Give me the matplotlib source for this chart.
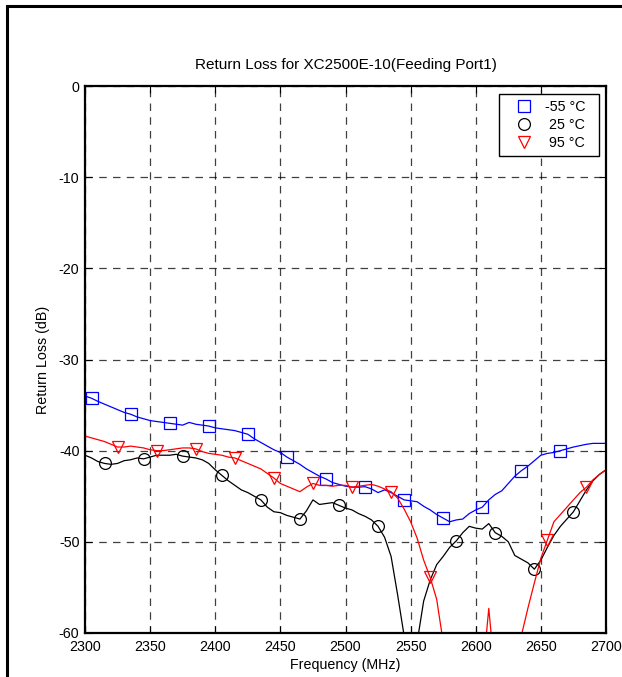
import matplotlib
matplotlib.use("Agg")
import matplotlib.pyplot as plt
from matplotlib.lines import Line2D
from matplotlib.patches import Rectangle
import numpy as np

plt.rcParams['font.family'] = ['Liberation Sans', 'DejaVu Sans']
plt.rcParams['axes.unicode_minus'] = False

freq = list(range(2300, 2701, 5))

rl_m55 = [-34.0, -34.25, -34.6, -34.9, -35.2, -35.5, -35.8, -36.0, -36.3, -36.5,
          -36.7, -36.8, -36.9, -37.0, -37.1, -37.2, -36.9, -37.1, -37.2, -37.3,
          -37.5, -37.6, -37.7, -37.8, -38.0, -38.2, -38.7, -39.1, -39.5, -39.9,
          -40.2, -40.7, -41.1, -41.5, -42.0, -42.4, -42.8, -43.1, -43.5, -43.7,
          -43.9, -44.0, -44.0, -43.95, -44.2, -44.6, -44.3, -44.6, -45.0, -45.4,
          -45.5, -45.6, -46.1, -46.5, -47.0, -47.4, -47.8, -47.6, -47.5, -46.9,
          -46.5, -46.2, -45.4, -44.8, -44.4, -43.6, -42.8, -42.2, -41.7, -41.1,
          -40.5, -40.3, -40.2, -40.0, -39.8, -39.6, -39.45, -39.3, -39.2, -39.2,
          -39.2]

rl_25 = [-40.5, -40.8, -41.2, -41.4, -41.5, -41.4, -41.1, -41.0, -40.8, -40.9,
         -40.7, -40.5, -40.5, -40.5, -40.4, -40.6, -40.7, -40.8, -41.0, -41.4,
         -42.1, -42.7, -43.3, -43.8, -44.3, -44.6, -45.0, -45.4, -46.2, -46.7,
         -46.8, -47.1, -47.3, -47.5, -46.6, -45.4, -45.9, -45.8, -45.7, -46.0,
         -46.3, -46.5, -46.9, -47.2, -47.6, -48.3, -49.5, -51.6, -55.8, -60.3,
         -66.0, -61.0, -56.5, -54.2, -52.5, -51.6, -50.6, -49.9, -49.0, -48.3,
         -48.5, -48.6, -48.0, -49.0, -49.4, -50.0, -51.5, -51.9, -52.3, -53.0,
         -52.0, -50.6, -49.3, -48.3, -47.5, -46.7, -45.5, -44.3, -43.3, -42.6,
         -42.1]

rl_95 = [-38.4, -38.6, -38.8, -39.0, -39.3, -39.6, -39.6, -39.5, -39.6, -39.7,
         -39.9, -40.0, -40.0, -39.9, -39.8, -39.7, -39.7, -39.8, -40.1, -40.3,
         -40.4, -40.5, -40.7, -40.8, -41.1, -41.4, -41.7, -42.0, -42.5, -43.0,
         -43.6, -43.9, -44.2, -44.5, -44.0, -43.6, -43.8, -43.8, -43.9, -43.8,
         -43.8, -44.0, -43.9, -43.8, -43.7, -43.9, -44.2, -44.5, -45.2, -46.4,
         -47.8, -49.6, -52.0, -53.9, -56.3, -61.0, -66.0, -68.0, -68.0, -67.0,
         -66.0, -65.0, -57.3, -65.0, -68.0, -68.0, -66.0, -60.3, -57.3, -54.5,
         -51.8, -49.8, -47.8, -47.0, -46.2, -45.4, -44.6, -44.0, -43.2, -42.6,
         -42.1]

labels = ['-55 °C  ', ' 25 °C  ', ' 95 °C  ']
colors = ['#0000ff', '#000000', '#ff0000']
markers = ['s', 'o', 'v']
mark_start = [1, 3, 5]
n_marks = 13

xticks = list(range(2300, 2701, 50))
yticks = list(range(-60, 1, 10))

fig = plt.figure(figsize=(6.22, 6.77), dpi=100)
ax = fig.add_axes([85/622, 44/677, 521/622, 547/677])

series = [rl_m55, rl_25, rl_95]
handles = []
for vals, c, m, s, lab in zip(series, colors, markers, mark_start, labels):
    ax.plot(freq, vals, color=c, lw=0.9, marker=m, markersize=8.5,
            markerfacecolor='none', markeredgecolor=c, markeredgewidth=0.9,
            markevery=slice(s, s + 6 * (n_marks - 1) + 1, 6))
    handles.append(Line2D([], [], color=c, marker=m, linestyle='none',
                          markersize=8.5, markerfacecolor='none',
                          markeredgecolor=c, markeredgewidth=0.9, label=lab))

ax.set_xlim(2300, 2700)
ax.set_ylim(-60, 0)
ax.set_xticks(xticks)
ax.set_yticks(yticks)
ax.grid(True, color='black', linestyle=(0, (6, 5)), linewidth=0.9, alpha=0.75)
ax.tick_params(direction='in', length=5, width=0.8, top=True, right=True,
               labelsize=10.3, colors='black')
ax.tick_params(axis='x', pad=5)
ax.tick_params(axis='y', pad=4)
for sp in ax.spines.values():
    sp.set_linewidth(1.6)
    sp.set_color('black')

ax.set_title('Return Loss for XC2500E-10(Feeding Port1)', fontsize=11, pad=12)
ax.set_xlabel('Frequency (MHz)', fontsize=10.3, labelpad=3)
ax.set_ylabel('Return Loss (dB)', fontsize=10.3, labelpad=6)

leg = ax.legend(handles=handles, loc='upper right',
                bbox_to_anchor=((599-85)/521, (633-94)/547),
                borderaxespad=0, fontsize=10.3, frameon=True, fancybox=False,
                edgecolor='black', framealpha=1, handlelength=2.7,
                handletextpad=0.1, labelspacing=0.3, borderpad=0.4)
leg.get_frame().set_linewidth(1.0)

fig.patches.append(Rectangle((6.5/622, -0.5), 2.0, 1.5 - 5.5/677,
                             transform=fig.transFigure, fill=False,
                             edgecolor='black', linewidth=2.2))

fig.savefig('out.png', dpi=100)
